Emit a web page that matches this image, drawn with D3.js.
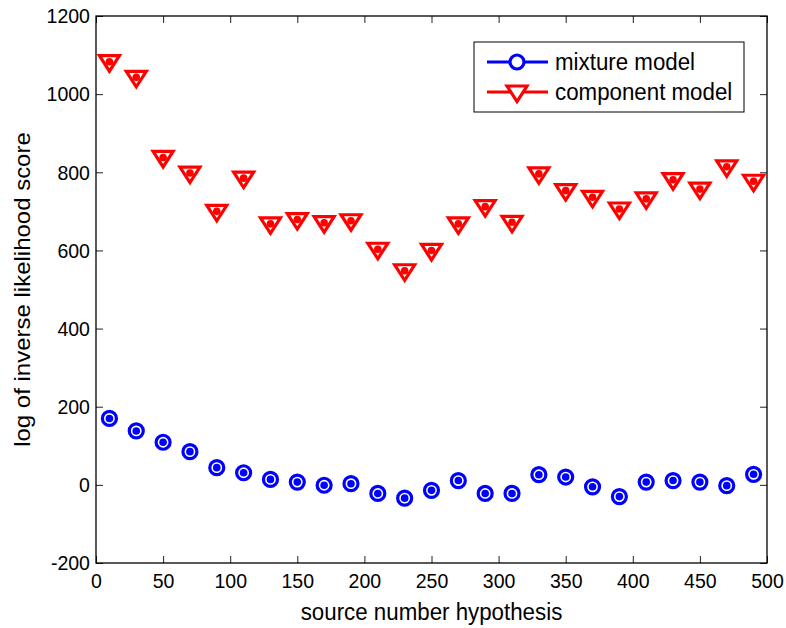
<!DOCTYPE html>
<html>
<head>
<meta charset="utf-8">
<script src="https://cdn.jsdelivr.net/npm/d3@7/dist/d3.min.js"></script>
<style>
  html, body { margin: 0; padding: 0; background: #fff; }
  svg { display: block; font-family: "Liberation Sans", Arial, sans-serif; }
</style>
</head>
<body>
<svg id="chart" width="786" height="628"></svg>
<script>
// Source number hypotheses tested (x positions)
const hypotheses = [10, 30, 50, 70, 90, 110, 130, 150, 170, 190, 210, 230, 250,
                    270, 290, 310, 330, 350, 370, 390, 410, 430, 450, 470, 490];

// Log inverse likelihood score, mixture model
const mixtureScores = [170, 138, 109, 85, 44, 31, 14, 7, -1, 3, -22, -34, -14,
                       11, -22, -22, 26, 20, -5, -30, 7, 11, 7, -2, 27];

// Log inverse likelihood score, component model
const componentScores = [1083, 1043, 838, 798, 700, 785, 668, 679, 671, 676, 603, 548, 600,
                         668, 712, 672, 796, 753, 736, 706, 732, 781, 757, 814, 777];

const xTicks = [0, 50, 100, 150, 200, 250, 300, 350, 400, 450, 500];
const yTicks = [-200, 0, 200, 400, 600, 800, 1000, 1200];

const seriesNames = ["mixture model", "component model"];

const svg = d3.select("#chart");
const plot = { left: 96, right: 767, top: 16, bottom: 563 };

const x = d3.scaleLinear().domain([0, 500]).range([plot.left, plot.right]);
const y = d3.scaleLinear().domain([-200, 1200]).range([plot.bottom, plot.top]);

const tickLen = 7;
const tickFont = 21;
const labelFont = 24;
const squeeze = 0.93;          // slightly condensed lettering
const plainNumber = d => String(d);  // ASCII hyphen for negatives

// Axes: ticks point inward on all four sides
function styleAxis(g, showLabels) {
  g.select(".domain").remove();
  g.selectAll(".tick line").attr("stroke", "#222").attr("stroke-width", 1);
  g.selectAll(".tick text")
    .attr("fill", "#000")
    .style("font-size", tickFont + "px")
    .style("font-family", "'Liberation Sans', Arial, sans-serif");
  if (!showLabels) g.selectAll(".tick text").remove();
}

svg.append("g")
  .attr("transform", `translate(0,${plot.bottom})`)
  .call(d3.axisBottom(x).tickValues(xTicks).tickSizeInner(-tickLen).tickSizeOuter(0).tickPadding(10).tickFormat(plainNumber))
  .call(g => styleAxis(g, true))
  .call(g => g.selectAll(".tick text").attr("transform", `scale(${squeeze},1)`));

svg.append("g")
  .attr("transform", `translate(0,${plot.top})`)
  .call(d3.axisTop(x).tickValues(xTicks).tickSizeInner(-tickLen).tickSizeOuter(0))
  .call(g => styleAxis(g, false));

svg.append("g")
  .attr("transform", `translate(${plot.left},0)`)
  .call(d3.axisLeft(y).tickValues(yTicks).tickSizeInner(-tickLen).tickSizeOuter(0).tickPadding(6.5).tickFormat(plainNumber))
  .call(g => styleAxis(g, true))
  .call(g => g.selectAll(".tick text").attr("transform", `scale(${squeeze},1)`));

svg.append("g")
  .attr("transform", `translate(${plot.right},0)`)
  .call(d3.axisRight(y).tickValues(yTicks).tickSizeInner(-tickLen).tickSizeOuter(0))
  .call(g => styleAxis(g, false));

// Plot box
svg.append("rect")
  .attr("x", plot.left).attr("y", plot.top)
  .attr("width", plot.right - plot.left).attr("height", plot.bottom - plot.top)
  .attr("fill", "none").attr("stroke", "#000").attr("stroke-width", 1.3);

// Axis titles
svg.append("text")
  .attr("transform", `translate(${(plot.left + plot.right) / 2},620) scale(${squeeze},1)`)
  .attr("text-anchor", "middle")
  .style("font-size", labelFont + "px")
  .text("source number hypothesis");

svg.append("text")
  .attr("transform", `translate(30,${(plot.top + plot.bottom) / 2}) scale(${squeeze},1) rotate(-90)`)
  .attr("text-anchor", "middle")
  .style("font-size", labelFont + "px")
  .text("log of inverse likelihood score");

// Marker shapes
const circleR = 7;
const markerStroke = 3.2;
const dotR = 3.8;
function triPath(cx, cy) {
  const hw = 10, top = 6, bot = 9.5;
  return `M${cx - hw},${cy - top}L${cx + hw},${cy - top}L${cx},${cy + bot}Z`;
}

const blue = "#0000ff";
const red = "#ff0000";

// Mixture model: open circles with a centre dot
const mixPts = hypotheses.map((h, i) => [h, mixtureScores[i]]);
const mix = svg.append("g");
mix.selectAll("circle.ring")
  .data(mixPts)
  .join("circle")
  .attr("class", "ring")
  .attr("cx", d => x(d[0])).attr("cy", d => y(d[1]))
  .attr("r", circleR)
  .attr("fill", "#fff").attr("stroke", blue).attr("stroke-width", markerStroke);
mix.selectAll("circle.dot")
  .data(mixPts)
  .join("circle")
  .attr("class", "dot")
  .attr("cx", d => x(d[0])).attr("cy", d => y(d[1]))
  .attr("r", dotR).attr("fill", blue);

// Component model: downward triangles with a centre dot
const compPts = hypotheses.map((h, i) => [h, componentScores[i]]);
const comp = svg.append("g");
comp.selectAll("path.tri")
  .data(compPts)
  .join("path")
  .attr("class", "tri")
  .attr("d", d => triPath(x(d[0]), y(d[1])))
  .attr("fill", "#fff").attr("stroke", red).attr("stroke-width", markerStroke)
  .attr("stroke-linejoin", "miter");
comp.selectAll("circle.dot")
  .data(compPts)
  .join("circle")
  .attr("class", "dot")
  .attr("cx", d => x(d[0])).attr("cy", d => y(d[1]))
  .attr("r", dotR).attr("fill", red);

// Legend
const legend = svg.append("g");
const lg = { x: 474, y: 42, w: 270, h: 70 };
legend.append("rect")
  .attr("x", lg.x).attr("y", lg.y).attr("width", lg.w).attr("height", lg.h)
  .attr("fill", "#fff").attr("stroke", "#000").attr("stroke-width", 1);
const rows = [lg.y + 20, lg.y + 50];
const lineX0 = lg.x + 13, lineX1 = lg.x + 74, markX = lg.x + 43;
[blue, red].forEach((c, i) => {
  legend.append("line")
    .attr("x1", lineX0).attr("x2", lineX1).attr("y1", rows[i]).attr("y2", rows[i])
    .attr("stroke", c).attr("stroke-width", 3);
  legend.append("text")
    .attr("transform", `translate(${lg.x + 81},${rows[i]}) scale(${squeeze},1)`)
    .attr("dy", "0.35em")
    .style("font-size", labelFont + "px")
    .text(seriesNames[i]);
});
legend.append("circle")
  .attr("cx", markX).attr("cy", rows[0]).attr("r", circleR)
  .attr("fill", "#fff").attr("stroke", blue).attr("stroke-width", markerStroke);
legend.append("path")
  .attr("d", triPath(markX, rows[1]))
  .attr("fill", "#fff").attr("stroke", red).attr("stroke-width", markerStroke);
</script>
</body>
</html>
